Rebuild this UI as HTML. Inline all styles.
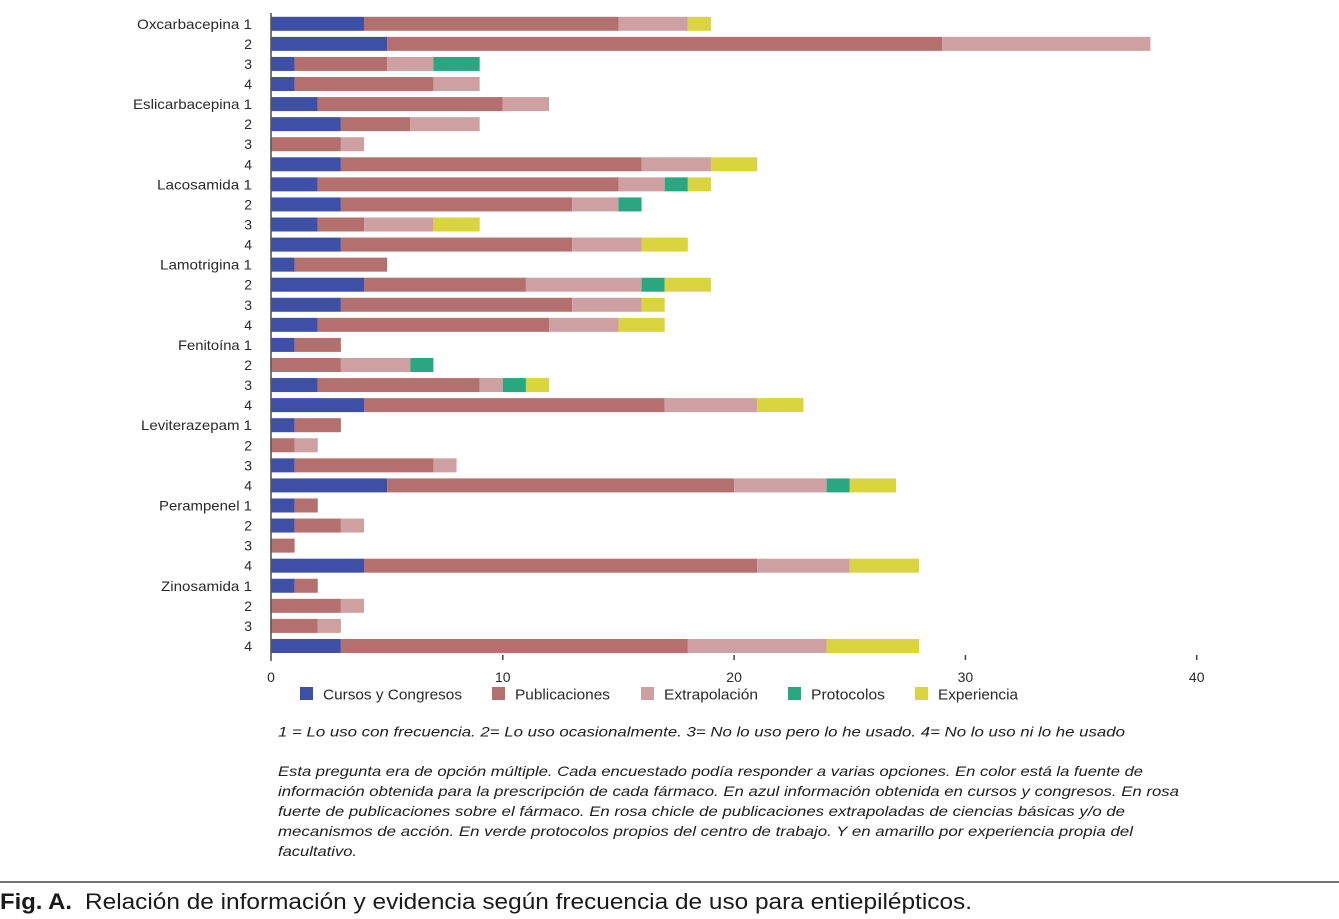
<!DOCTYPE html>
<html>
<head>
<meta charset="utf-8">
<style>
  html,body{margin:0;padding:0;background:#fff;}
  svg{display:block;}
  .b{fill:#3e50a6}
  .r{fill:#b4706e}
  .p{fill:#cfa0a1}
  .g{fill:#2aa780}
  .y{fill:#dad53f}
  .lab{font-family:"Liberation Sans",sans-serif;font-size:14px;fill:#2a2a2a;text-anchor:end;}
  .tick{font-family:"Liberation Sans",sans-serif;font-size:14px;fill:#2a2a2a;text-anchor:middle;}
  .leg{font-family:"Liberation Sans",sans-serif;font-size:14.5px;fill:#2a2a2a;}
  .note{font-family:"Liberation Sans",sans-serif;font-size:14px;font-style:italic;fill:#1e1e1e;}
  .cap{font-family:"Liberation Sans",sans-serif;font-size:22px;fill:#1a1a1a;}
</style>
</head>
<body>
<svg width="1339" height="919" viewBox="0 0 1339 919" xmlns="http://www.w3.org/2000/svg">
  <rect x="0" y="0" width="1339" height="919" fill="#fff"/>

  <!-- bars: x in data units -->
  <g transform="translate(271.5,0) scale(23.13,1)">
    <!-- row 0 -->
    <rect class="b" x="0" y="16.8" width="4" height="14"/><rect class="r" x="4" y="16.8" width="11" height="14"/><rect class="p" x="15" y="16.8" width="3" height="14"/><rect class="y" x="18" y="16.8" width="1" height="14"/>
    <!-- row 1 -->
    <rect class="b" x="0" y="36.87" width="5" height="14"/><rect class="r" x="5" y="36.87" width="24" height="14"/><rect class="p" x="29" y="36.87" width="9" height="14"/>
    <!-- row 2 -->
    <rect class="b" x="0" y="56.94" width="1" height="14"/><rect class="r" x="1" y="56.94" width="4" height="14"/><rect class="p" x="5" y="56.94" width="2" height="14"/><rect class="g" x="7" y="56.94" width="2" height="14"/>
    <!-- row 3 -->
    <rect class="b" x="0" y="77.01" width="1" height="14"/><rect class="r" x="1" y="77.01" width="6" height="14"/><rect class="p" x="7" y="77.01" width="2" height="14"/>
    <!-- row 4 -->
    <rect class="b" x="0" y="97.08" width="2" height="14"/><rect class="r" x="2" y="97.08" width="8" height="14"/><rect class="p" x="10" y="97.08" width="2" height="14"/>
    <!-- row 5 -->
    <rect class="b" x="0" y="117.15" width="3" height="14"/><rect class="r" x="3" y="117.15" width="3" height="14"/><rect class="p" x="6" y="117.15" width="3" height="14"/>
    <!-- row 6 -->
    <rect class="r" x="0" y="137.22" width="3" height="14"/><rect class="p" x="3" y="137.22" width="1" height="14"/>
    <!-- row 7 -->
    <rect class="b" x="0" y="157.29" width="3" height="14"/><rect class="r" x="3" y="157.29" width="13" height="14"/><rect class="p" x="16" y="157.29" width="3" height="14"/><rect class="y" x="19" y="157.29" width="2" height="14"/>
    <!-- row 8 -->
    <rect class="b" x="0" y="177.36" width="2" height="14"/><rect class="r" x="2" y="177.36" width="13" height="14"/><rect class="p" x="15" y="177.36" width="2" height="14"/><rect class="g" x="17" y="177.36" width="1" height="14"/><rect class="y" x="18" y="177.36" width="1" height="14"/>
    <!-- row 9 -->
    <rect class="b" x="0" y="197.43" width="3" height="14"/><rect class="r" x="3" y="197.43" width="10" height="14"/><rect class="p" x="13" y="197.43" width="2" height="14"/><rect class="g" x="15" y="197.43" width="1" height="14"/>
    <!-- row 10 -->
    <rect class="b" x="0" y="217.5" width="2" height="14"/><rect class="r" x="2" y="217.5" width="2" height="14"/><rect class="p" x="4" y="217.5" width="3" height="14"/><rect class="y" x="7" y="217.5" width="2" height="14"/>
    <!-- row 11 -->
    <rect class="b" x="0" y="237.57" width="3" height="14"/><rect class="r" x="3" y="237.57" width="10" height="14"/><rect class="p" x="13" y="237.57" width="3" height="14"/><rect class="y" x="16" y="237.57" width="2" height="14"/>
    <!-- row 12 -->
    <rect class="b" x="0" y="257.64" width="1" height="14"/><rect class="r" x="1" y="257.64" width="4" height="14"/>
    <!-- row 13 -->
    <rect class="b" x="0" y="277.71" width="4" height="14"/><rect class="r" x="4" y="277.71" width="7" height="14"/><rect class="p" x="11" y="277.71" width="5" height="14"/><rect class="g" x="16" y="277.71" width="1" height="14"/><rect class="y" x="17" y="277.71" width="2" height="14"/>
    <!-- row 14 -->
    <rect class="b" x="0" y="297.78" width="3" height="14"/><rect class="r" x="3" y="297.78" width="10" height="14"/><rect class="p" x="13" y="297.78" width="3" height="14"/><rect class="y" x="16" y="297.78" width="1" height="14"/>
    <!-- row 15 -->
    <rect class="b" x="0" y="317.85" width="2" height="14"/><rect class="r" x="2" y="317.85" width="10" height="14"/><rect class="p" x="12" y="317.85" width="3" height="14"/><rect class="y" x="15" y="317.85" width="2" height="14"/>
    <!-- row 16 -->
    <rect class="b" x="0" y="337.92" width="1" height="14"/><rect class="r" x="1" y="337.92" width="2" height="14"/>
    <!-- row 17 -->
    <rect class="r" x="0" y="357.99" width="3" height="14"/><rect class="p" x="3" y="357.99" width="3" height="14"/><rect class="g" x="6" y="357.99" width="1" height="14"/>
    <!-- row 18 -->
    <rect class="b" x="0" y="378.06" width="2" height="14"/><rect class="r" x="2" y="378.06" width="7" height="14"/><rect class="p" x="9" y="378.06" width="1" height="14"/><rect class="g" x="10" y="378.06" width="1" height="14"/><rect class="y" x="11" y="378.06" width="1" height="14"/>
    <!-- row 19 -->
    <rect class="b" x="0" y="398.13" width="4" height="14"/><rect class="r" x="4" y="398.13" width="13" height="14"/><rect class="p" x="17" y="398.13" width="4" height="14"/><rect class="y" x="21" y="398.13" width="2" height="14"/>
    <!-- row 20 -->
    <rect class="b" x="0" y="418.2" width="1" height="14"/><rect class="r" x="1" y="418.2" width="2" height="14"/>
    <!-- row 21 -->
    <rect class="r" x="0" y="438.27" width="1" height="14"/><rect class="p" x="1" y="438.27" width="1" height="14"/>
    <!-- row 22 -->
    <rect class="b" x="0" y="458.34" width="1" height="14"/><rect class="r" x="1" y="458.34" width="6" height="14"/><rect class="p" x="7" y="458.34" width="1" height="14"/>
    <!-- row 23 -->
    <rect class="b" x="0" y="478.41" width="5" height="14"/><rect class="r" x="5" y="478.41" width="15" height="14"/><rect class="p" x="20" y="478.41" width="4" height="14"/><rect class="g" x="24" y="478.41" width="1" height="14"/><rect class="y" x="25" y="478.41" width="2" height="14"/>
    <!-- row 24 -->
    <rect class="b" x="0" y="498.48" width="1" height="14"/><rect class="r" x="1" y="498.48" width="1" height="14"/>
    <!-- row 25 -->
    <rect class="b" x="0" y="518.55" width="1" height="14"/><rect class="r" x="1" y="518.55" width="2" height="14"/><rect class="p" x="3" y="518.55" width="1" height="14"/>
    <!-- row 26 -->
    <rect class="r" x="0" y="538.62" width="1" height="14"/>
    <!-- row 27 -->
    <rect class="b" x="0" y="558.69" width="4" height="14"/><rect class="r" x="4" y="558.69" width="17" height="14"/><rect class="p" x="21" y="558.69" width="4" height="14"/><rect class="y" x="25" y="558.69" width="3" height="14"/>
    <!-- row 28 -->
    <rect class="b" x="0" y="578.76" width="1" height="14"/><rect class="r" x="1" y="578.76" width="1" height="14"/>
    <!-- row 29 -->
    <rect class="r" x="0" y="598.83" width="3" height="14"/><rect class="p" x="3" y="598.83" width="1" height="14"/>
    <!-- row 30 -->
    <rect class="r" x="0" y="618.9" width="2" height="14"/><rect class="p" x="2" y="618.9" width="1" height="14"/>
    <!-- row 31 -->
    <rect class="b" x="0" y="638.97" width="3" height="14"/><rect class="r" x="3" y="638.97" width="15" height="14"/><rect class="p" x="18" y="638.97" width="6" height="14"/><rect class="y" x="24" y="638.97" width="4" height="14"/>
  </g>

  <!-- axis -->
  <line x1="271" y1="13" x2="271" y2="661" stroke="#555" stroke-width="1.6"/>
  <g stroke="#444" stroke-width="1.5">
    <line x1="502.8" y1="655" x2="502.8" y2="660"/>
    <line x1="734.1" y1="655" x2="734.1" y2="660"/>
    <line x1="965.4" y1="655" x2="965.4" y2="660"/>
    <line x1="1196.7" y1="655" x2="1196.7" y2="660"/>
  </g>
  <text class="tick" x="271" y="682">0</text>
  <text class="tick" x="502.8" y="682">10</text>
  <text class="tick" x="734.1" y="682">20</text>
  <text class="tick" x="965.4" y="682">30</text>
  <text class="tick" x="1196.7" y="682">40</text>

  <!-- y labels -->
  <text class="lab" x="252" y="28.8" textLength="115" lengthAdjust="spacingAndGlyphs">Oxcarbacepina 1</text>
  <text class="lab" x="252" y="48.87">2</text>
  <text class="lab" x="252" y="68.94">3</text>
  <text class="lab" x="252" y="89.01">4</text>
  <text class="lab" x="252" y="109.08" textLength="119" lengthAdjust="spacingAndGlyphs">Eslicarbacepina 1</text>
  <text class="lab" x="252" y="129.15">2</text>
  <text class="lab" x="252" y="149.22">3</text>
  <text class="lab" x="252" y="169.29">4</text>
  <text class="lab" x="252" y="189.36" textLength="95" lengthAdjust="spacingAndGlyphs">Lacosamida 1</text>
  <text class="lab" x="252" y="209.43">2</text>
  <text class="lab" x="252" y="229.5">3</text>
  <text class="lab" x="252" y="249.57">4</text>
  <text class="lab" x="252" y="269.64" textLength="92" lengthAdjust="spacingAndGlyphs">Lamotrigina 1</text>
  <text class="lab" x="252" y="289.71">2</text>
  <text class="lab" x="252" y="309.78">3</text>
  <text class="lab" x="252" y="329.85">4</text>
  <text class="lab" x="252" y="349.92" textLength="74" lengthAdjust="spacingAndGlyphs">Fenitoína 1</text>
  <text class="lab" x="252" y="369.99">2</text>
  <text class="lab" x="252" y="390.06">3</text>
  <text class="lab" x="252" y="410.13">4</text>
  <text class="lab" x="252" y="430.2" textLength="111" lengthAdjust="spacingAndGlyphs">Leviterazepam 1</text>
  <text class="lab" x="252" y="450.27">2</text>
  <text class="lab" x="252" y="470.34">3</text>
  <text class="lab" x="252" y="490.41">4</text>
  <text class="lab" x="252" y="510.48" textLength="93" lengthAdjust="spacingAndGlyphs">Perampenel 1</text>
  <text class="lab" x="252" y="530.55">2</text>
  <text class="lab" x="252" y="550.62">3</text>
  <text class="lab" x="252" y="570.69">4</text>
  <text class="lab" x="252" y="590.76" textLength="91" lengthAdjust="spacingAndGlyphs">Zinosamida 1</text>
  <text class="lab" x="252" y="610.83">2</text>
  <text class="lab" x="252" y="630.9">3</text>
  <text class="lab" x="252" y="650.97">4</text>

  <!-- legend -->
  <rect class="b" x="300" y="687" width="13" height="13"/>
  <text class="leg" x="323" y="699.5" textLength="139" lengthAdjust="spacingAndGlyphs">Cursos y Congresos</text>
  <rect class="r" x="492" y="687" width="13" height="13"/>
  <text class="leg" x="515" y="699.5" textLength="95" lengthAdjust="spacingAndGlyphs">Publicaciones</text>
  <rect class="p" x="641" y="687" width="13" height="13"/>
  <text class="leg" x="664" y="699.5" textLength="94" lengthAdjust="spacingAndGlyphs">Extrapolación</text>
  <rect class="g" x="788" y="687" width="13" height="13"/>
  <text class="leg" x="811" y="699.5" textLength="74" lengthAdjust="spacingAndGlyphs">Protocolos</text>
  <rect class="y" x="915" y="687" width="13" height="13"/>
  <text class="leg" x="938" y="699.5" textLength="80" lengthAdjust="spacingAndGlyphs">Experiencia</text>

  <!-- notes -->
  <text class="note" x="278" y="736.5" textLength="847" lengthAdjust="spacingAndGlyphs">1 = Lo uso con frecuencia. 2= Lo uso ocasionalmente. 3= No lo uso pero lo he usado. 4= No lo uso ni lo he usado</text>
  <text class="note" x="278" y="776" textLength="865" lengthAdjust="spacingAndGlyphs">Esta pregunta era de opción múltiple. Cada encuestado podía responder a varias opciones. En color está la fuente de</text>
  <text class="note" x="278" y="796" textLength="901" lengthAdjust="spacingAndGlyphs">información obtenida para la prescripción de cada fármaco. En azul información obtenida en cursos y congresos. En rosa</text>
  <text class="note" x="278" y="816" textLength="847" lengthAdjust="spacingAndGlyphs">fuerte de publicaciones sobre el fármaco. En rosa chicle de publicaciones extrapoladas de ciencias básicas y/o de</text>
  <text class="note" x="278" y="836" textLength="855" lengthAdjust="spacingAndGlyphs">mecanismos de acción. En verde protocolos propios del centro de trabajo. Y en amarillo por experiencia propia del</text>
  <text class="note" x="278" y="856" textLength="79" lengthAdjust="spacingAndGlyphs">facultativo.</text>

  <!-- caption -->
  <line x1="0" y1="882" x2="1339" y2="882" stroke="#222" stroke-width="1.2"/>
  <text class="cap" x="0" y="909" font-weight="bold" textLength="72" lengthAdjust="spacingAndGlyphs">Fig. A.</text>
  <text class="cap" x="85" y="909" textLength="887" lengthAdjust="spacingAndGlyphs">Relación de información y evidencia según frecuencia de uso para entiepilépticos.</text>
</svg>
</body>
</html>
